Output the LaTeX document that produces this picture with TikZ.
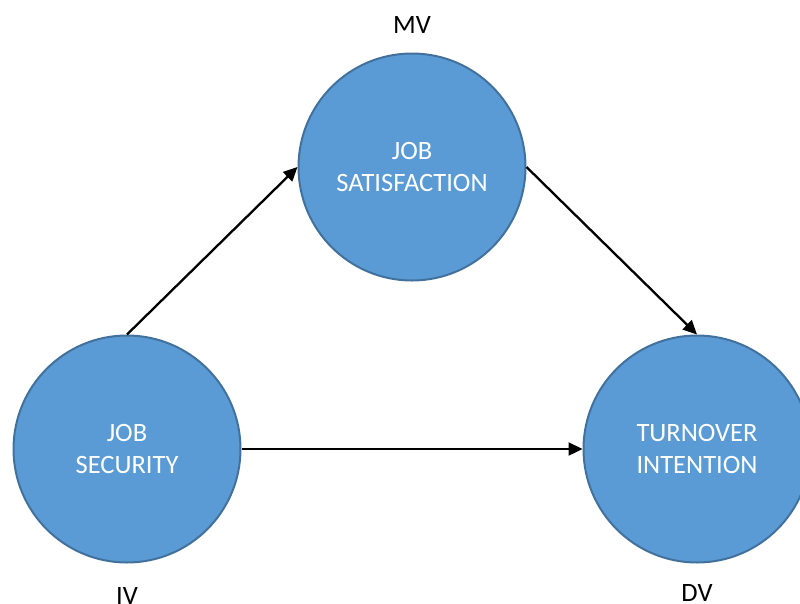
\documentclass[tikz,border=0pt]{standalone}
\usepackage{fontspec}
\setmainfont{Carlito}
\usetikzlibrary{arrows.meta}
\definecolor{cfill}{HTML}{5B9BD5}
\definecolor{cline}{HTML}{41719C}
\tikzset{
  var/.style={circle, fill=cfill, draw=cline, line width=2pt, minimum size=227pt, inner sep=0pt,
    text=white, align=center, font=\fontsize{26.5}{32}\selectfont},
  lbl/.style={text=black, font=\fontsize{26.5}{32}\selectfont, inner sep=0pt},
  conn/.style={line width=2.3pt, -{Triangle[length=14pt,width=13pt]}}
}
\begin{document}
\begin{tikzpicture}[x=1pt,y=-1pt]
\useasboundingbox (0,0) rectangle (800,603);
\node[var] (js) at (127,449) {JOB\\SECURITY};
\node[var] (sat) at (412,167) {JOB\\SATISFACTION};
\node[var] (tv) at (697,449) {TURNOVER\\INTENTION};
\node[lbl] (mv) at (412,25) {MV};
\node[lbl] (iv) at (127,596) {IV};
\node[lbl] (dv) at (697,593) {DV};
\draw[conn] (js.north) -- (sat.west);
\draw[conn] (sat.east) -- (tv.north);
\draw[conn] (js.east) -- (tv.west);
\end{tikzpicture}
\end{document}
